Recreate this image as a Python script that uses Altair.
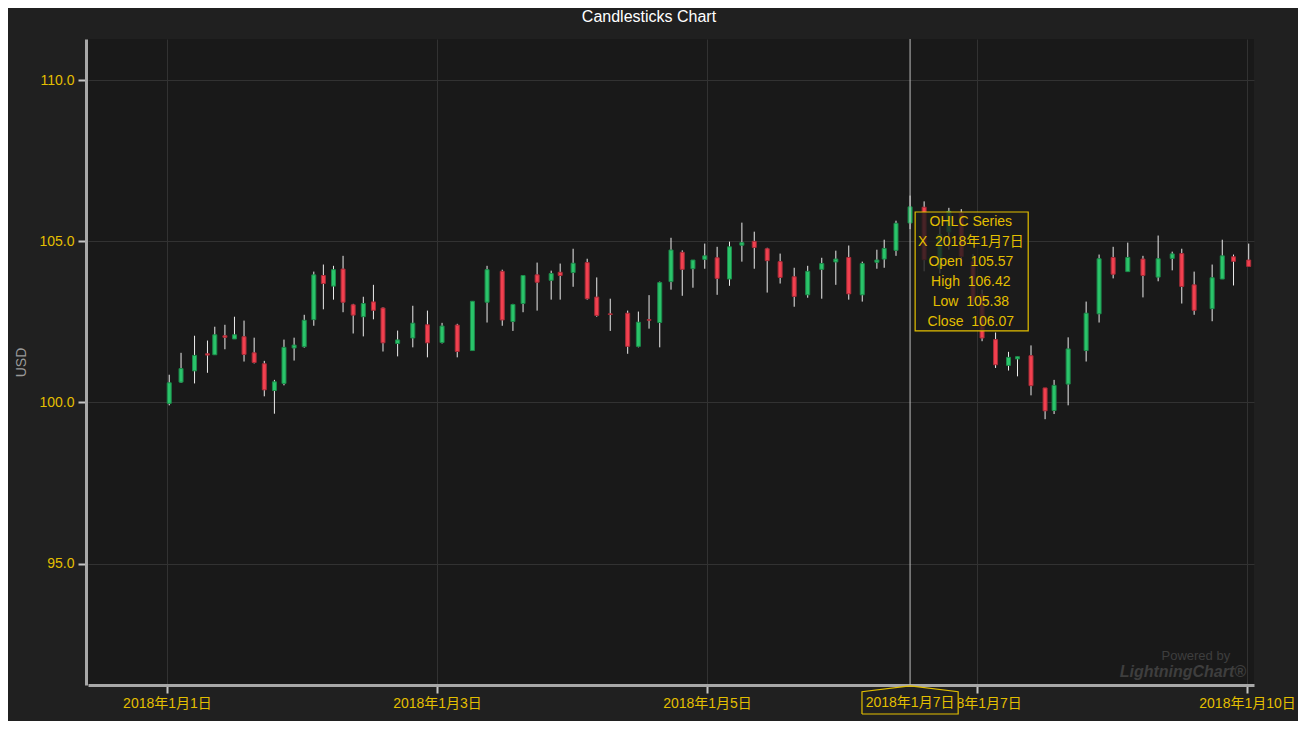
import altair as alt
import pandas as pd

# ---------------- data ----------------
# time of each candle, in hours after 2018-01-01 00:00
hours = [0.4, 2.5, 4.9, 7.2, 8.5, 10.3, 12.0, 13.7, 15.5, 17.3,
         19.1, 20.8, 22.6, 24.4, 26.1, 27.8, 29.6, 31.3, 33.1, 34.9,
         36.7, 38.4, 41.0, 43.7, 46.3, 48.9, 51.6, 54.3, 56.9, 59.6,
         61.5, 63.3, 65.8, 68.3, 69.9, 72.2, 74.7, 76.4, 78.8, 81.9,
         83.8, 85.7, 87.6, 89.6, 91.6, 93.5, 95.6, 97.8, 100.0, 102.2,
         104.4, 106.7, 109.0, 111.5, 113.9, 116.4, 118.9, 121.2, 123.6, 126.2,
         127.5, 129.6, 132.1, 134.6, 137.4, 139.0, 141.2, 143.3, 144.9, 147.3,
         149.6, 151.2, 153.6, 156.1, 157.7, 160.2, 163.4, 165.7, 168.2, 170.8,
         173.5, 176.2, 178.7, 180.4, 182.6, 185.8, 187.6, 189.6, 192.3]
opens = [99.97, 100.63, 100.98, 101.51, 101.48, 102.07, 101.97, 102.04, 101.54, 101.20,
         100.37, 100.59, 101.69, 101.73, 102.57, 103.94, 103.61, 104.14, 103.03, 102.66,
         103.12, 102.93, 101.83, 102.00, 102.41, 101.86, 102.40, 101.61, 103.11, 104.07,
         102.51, 103.07, 103.96, 103.79, 104.04, 104.03, 104.34, 103.27, 102.75, 102.77,
         101.74, 102.57, 102.48, 103.75, 104.66, 104.15, 104.44, 104.49, 103.83, 104.88,
         105.00, 104.77, 104.37, 103.90, 103.34, 104.13, 104.36, 104.50, 103.34, 104.35,
         104.45, 104.72, 105.57, 106.06, 104.17, 105.29, 105.88, 104.38, 103.34, 101.95,
         101.15, 101.35, 101.45, 100.45, 99.75, 100.57, 101.61, 102.75, 104.50, 104.06,
         104.45, 103.89, 104.47, 104.62, 103.65, 102.91, 103.83, 104.52, 104.42]
highs = [100.86, 101.54, 102.07, 101.92, 102.35, 102.41, 102.66, 102.54, 102.01, 101.29,
         100.70, 101.95, 102.01, 102.72, 104.06, 104.28, 104.24, 104.55, 103.06, 103.28,
         103.65, 102.95, 102.23, 103.00, 102.85, 102.47, 102.44, 103.14, 104.24, 104.12,
         103.06, 103.94, 104.34, 104.09, 104.31, 104.77, 104.46, 103.88, 103.22, 102.85,
         102.82, 103.33, 103.75, 105.11, 104.72, 104.42, 104.93, 104.83, 104.99, 105.58,
         105.30, 104.80, 104.62, 104.18, 104.24, 104.49, 104.71, 104.87, 104.37, 104.74,
         105.05, 105.64, 106.42, 106.24, 105.47, 106.04, 106.00, 104.60, 103.50, 102.17,
         101.57, 101.42, 101.77, 100.45, 100.70, 102.02, 103.13, 104.59, 104.83, 104.96,
         104.55, 105.18, 104.68, 104.77, 104.06, 104.28, 105.05, 104.59, 104.93]
lows = [99.91, 100.61, 100.59, 100.92, 101.48, 101.65, 101.97, 101.27, 101.21, 100.19,
        99.65, 100.53, 101.30, 101.70, 102.38, 102.89, 103.19, 102.80, 102.14, 102.05,
        102.58, 101.58, 101.43, 101.71, 101.40, 101.83, 101.40, 101.61, 102.48, 102.38,
        102.22, 102.80, 102.85, 103.19, 103.19, 103.59, 103.19, 102.66, 102.22, 101.51,
        101.71, 102.29, 101.71, 103.50, 103.31, 103.56, 104.15, 103.34, 103.62, 104.37,
        104.15, 103.41, 103.69, 102.97, 103.25, 103.22, 103.65, 103.19, 103.13, 104.15,
        104.18, 104.55, 105.38, 104.07, 104.00, 104.74, 104.40, 103.00, 101.90, 101.07,
        100.99, 100.81, 100.22, 99.48, 99.64, 99.91, 101.27, 102.48, 103.85, 104.06,
        103.26, 103.76, 104.10, 103.07, 102.72, 102.52, 103.83, 103.63, 104.22]
closes = [100.61, 101.05, 101.46, 101.47, 102.10, 102.02, 102.10, 101.49, 101.24, 100.39,
          100.64, 101.71, 101.78, 102.55, 103.96, 103.69, 104.12, 103.11, 102.71, 103.07,
          102.86, 101.85, 101.94, 102.46, 101.85, 102.37, 101.58, 103.14, 104.12, 102.56,
          103.04, 103.94, 103.73, 104.00, 103.94, 104.32, 103.22, 102.70, 102.73, 101.74,
          102.49, 102.55, 103.72, 104.73, 104.13, 104.42, 104.55, 103.85, 104.83, 104.96,
          104.81, 104.40, 103.88, 103.29, 104.07, 104.31, 104.45, 103.37, 104.31, 104.42,
          104.78, 105.56, 106.07, 104.43, 105.21, 105.93, 104.53, 103.14, 102.00, 101.17,
          101.40, 101.42, 100.52, 99.74, 100.53, 101.66, 102.77, 104.46, 103.98, 104.50,
          103.94, 104.46, 104.61, 103.60, 102.86, 103.87, 104.55, 104.38, 104.22]

x_tick_hours = [0, 48, 96, 144, 192]
x_tick_labels = ["2018年1月1日", "2018年1月3日", "2018年1月5日", "2018年1月7日", "2018年1月10日"]
y_ticks = [95, 100, 105, 110]

title_text = "Candlesticks Chart"
y_title = "USD"
series_name = "OHLC Series"
hover_index = 62          # candle under the crosshair
hover_label = "2018年1月7日"

# ---------------- styling ----------------
FONT = "Liberation Sans, Arial, Noto Sans CJK SC, sans-serif"
GOLD = "#e3bf00"
GREEN, GREEN_D = "#2ac46a", "#1c8a4a"
RED, RED_D = "#f2404f", "#a82c38"
BG = "#202020"
PLOT_BG = "#191919"
GAP = " \u00a0"   # visible double space inside SVG text

df = pd.DataFrame({"t": hours, "open": opens, "high": highs, "low": lows, "close": closes})
df["dir"] = ["up" if c >= o else "down" for o, c in zip(opens, closes)]

x_scale = alt.Scale(domain=[-14.04, 193.24], nice=False, zero=False, padding=0)
y_scale = alt.Scale(domain=[91.23, 111.28], nice=False, zero=False, padding=0)

label_expr = ("[" + ",".join("'%s'" % s for s in x_tick_labels) + "][indexof(["
              + ",".join(str(v) for v in x_tick_hours) + "], datum.value)]")

x_axis = alt.Axis(values=x_tick_hours, labelExpr=label_expr, title=None,
                  grid=True, gridColor="#323232", gridWidth=1,
                  domainColor="#a8a8a8", domainWidth=3,
                  tickColor="#c4c4c4", tickWidth=2, tickSize=8,
                  labelColor=GOLD, labelFontSize=14, labelFont=FONT, labelPadding=3,
                  labelFlush=False, labelOverlap=False, labelBound=False, zindex=0)
y_axis = alt.Axis(values=y_ticks, format=".1f", title=y_title, offset=2,
                  grid=True, gridColor="#323232", gridWidth=1,
                  domainColor="#a8a8a8", domainWidth=3,
                  tickColor="#c4c4c4", tickWidth=2, tickSize=8,
                  labelColor=GOLD, labelFontSize=14, labelFont=FONT, labelPadding=4,
                  titleColor="#9a9a9a", titleFontSize=14, titleFont=FONT,
                  titleFontWeight="normal", titlePadding=10, zindex=0)

base = alt.Chart(df)

wicks = base.mark_rule(color="#ececec", strokeWidth=1).encode(
    x=alt.X("t:Q", scale=x_scale, axis=x_axis),
    y=alt.Y("low:Q", scale=y_scale, axis=y_axis),
    y2="high:Q",
)

bodies = base.mark_bar(size=4, strokeWidth=1).encode(
    x=alt.X("t:Q", scale=x_scale),
    y=alt.Y("open:Q", scale=y_scale),
    y2="close:Q",
    color=alt.Color("dir:N", scale=alt.Scale(domain=["up", "down"], range=[GREEN, RED]), legend=None),
    stroke=alt.Stroke("dir:N", scale=alt.Scale(domain=["up", "down"], range=[GREEN_D, RED_D]), legend=None),
)

# ---------------- crosshair / cursor annotations ----------------
ht = hours[hover_index]
cross_df = pd.DataFrame({"t": [ht], "y1": [91.23], "y2": [111.28]})
crosshair = alt.Chart(cross_df).mark_rule(color="#bdbdbd", strokeWidth=1).encode(
    x=alt.X("t:Q", scale=x_scale), y=alt.Y("y1:Q", scale=y_scale), y2="y2:Q")

# tooltip box
tip_box_df = pd.DataFrame({"x1": [ht + 0.9], "x2": [ht + 21.0], "y1": [102.22], "y2": [105.91]})
tip_box = alt.Chart(tip_box_df).mark_rect(fill="#1c1c1c", fillOpacity=0.8,
                                          stroke=GOLD, strokeWidth=1.2).encode(
    x=alt.X("x1:Q", scale=x_scale), x2="x2:Q",
    y=alt.Y("y1:Q", scale=y_scale), y2="y2:Q")

tip_lines = [
    series_name,
    "X" + GAP + hover_label,
    "Open" + GAP + "%.2f" % opens[hover_index],
    "High" + GAP + "%.2f" % highs[hover_index],
    "Low" + GAP + "%.2f" % lows[hover_index],
    "Close" + GAP + "%.2f" % closes[hover_index],
]
tip_df = pd.DataFrame({
    "x": [ht + 10.8] * len(tip_lines),
    "y": [105.60 - 0.62 * i for i in range(len(tip_lines))],
    "txt": tip_lines,
})
tip_text = alt.Chart(tip_df).mark_text(color=GOLD, fontSize=14, font=FONT,
                                       align="center", baseline="middle").encode(
    x=alt.X("x:Q", scale=x_scale), y=alt.Y("y:Q", scale=y_scale), text="txt:N")

# axis cursor label box (pentagon pointing up to the axis)
lab_fill_df = pd.DataFrame({"x1": [ht - 8.55], "x2": [ht + 8.55], "y1": [90.33], "y2": [91.02]})
lab_fill = alt.Chart(lab_fill_df).mark_rect(fill=BG).encode(
    x=alt.X("x1:Q", scale=x_scale), x2="x2:Q",
    y=alt.Y("y1:Q", scale=y_scale), y2="y2:Q")
outline_df = pd.DataFrame({
    "x": [ht - 8.55, ht - 8.55, ht, ht + 8.55, ht + 8.55, ht - 8.55],
    "y": [90.33, 91.02, 91.20, 91.02, 90.33, 90.33],
    "o": list(range(6)),
})
lab_outline = alt.Chart(outline_df).mark_line(color=GOLD, strokeWidth=1.2).encode(
    x=alt.X("x:Q", scale=x_scale), y=alt.Y("y:Q", scale=y_scale), order="o:Q")
lab_text_df = pd.DataFrame({"x": [ht], "y": [90.67], "txt": [hover_label]})
lab_text = alt.Chart(lab_text_df).mark_text(color=GOLD, fontSize=14, font=FONT,
                                            align="center", baseline="middle").encode(
    x=alt.X("x:Q", scale=x_scale), y=alt.Y("y:Q", scale=y_scale), text="txt:N")

# faint watermark
wm_df = pd.DataFrame({"x": [182.9, 180.6], "y": [92.13, 91.62],
                      "txt": ["Powered by", "LightningChart®"], "k": ["a", "b"]})
wm1 = alt.Chart(wm_df[wm_df.k == "a"]).mark_text(color="#3e3e3e", fontSize=13, font=FONT,
                                                 align="center", baseline="middle").encode(
    x=alt.X("x:Q", scale=x_scale), y=alt.Y("y:Q", scale=y_scale), text="txt:N")
wm2 = alt.Chart(wm_df[wm_df.k == "b"]).mark_text(color="#3e3e3e", fontSize=16, font=FONT,
                                                 fontStyle="italic", fontWeight="bold",
                                                 align="center", baseline="middle").encode(
    x=alt.X("x:Q", scale=x_scale), y=alt.Y("y:Q", scale=y_scale), text="txt:N")

chart = alt.layer(
    wm1, wm2, wicks, bodies, crosshair, tip_box, tip_text, lab_fill, lab_outline, lab_text
).properties(
    width=1166, height=646,
    title=alt.TitleParams(title_text, color="#ffffff", fontSize=16, font=FONT,
                          fontWeight="normal", anchor="middle", offset=14, dx=-22),
    autosize=alt.AutoSizeParams(type="none"),
    padding={"left": 80, "top": 31, "right": 44, "bottom": 36},
    background=BG,
).configure_view(stroke=None, fill=PLOT_BG)

chart.save("out.html", embed_options={"renderer": "svg", "actions": False})
